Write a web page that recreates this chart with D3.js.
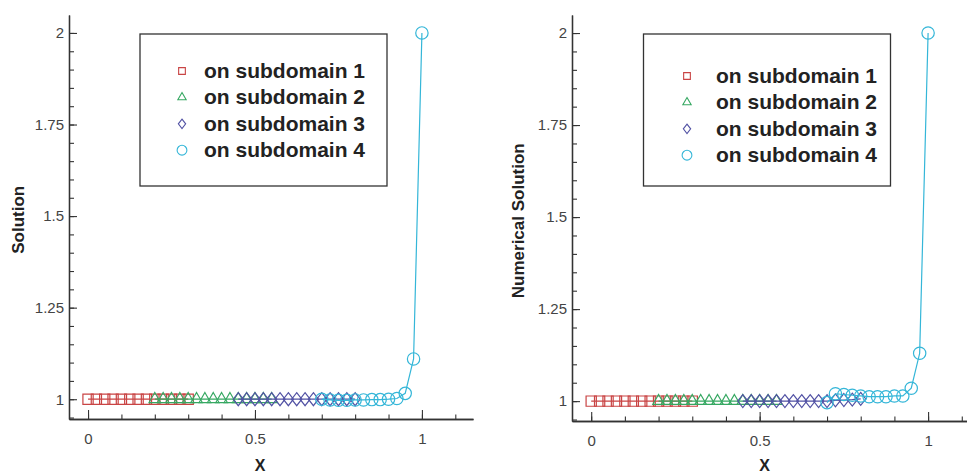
<!DOCTYPE html>
<html lang="en">
    <head>
        <meta charset="utf-8">
        <title>Solution on four subdomains</title>
        <script type="text/javascript" src="https://cdn.jsdelivr.net/npm/d3@7"></script>
        <style type="text/css">
            body { margin: 0; background: #fff; }
            svg { display: block; }
            text { font-family: "Liberation Sans", Arial, sans-serif; }
        </style>
    </head>

    <body>
        <script type="text/javascript">
            // Grid points of each subdomain
            var x1 = [0, 0.025, 0.05, 0.075, 0.1, 0.125, 0.15, 0.175, 0.2, 0.225, 0.25, 0.275, 0.3];
            var x2 = [0.2, 0.225, 0.25, 0.275, 0.3, 0.325, 0.35, 0.375, 0.4, 0.425, 0.45, 0.475, 0.5, 0.525, 0.55];
            var x3 = [0.45, 0.475, 0.5, 0.525, 0.55, 0.575, 0.6, 0.625, 0.65, 0.675, 0.7, 0.725, 0.75, 0.775, 0.8];
            var x4 = [0.7, 0.725, 0.75, 0.775, 0.8, 0.825, 0.85, 0.875, 0.9, 0.925, 0.95, 0.975, 1];

            // Left panel: solution
            var solY1 = [1, 1, 1, 1, 1, 1, 1, 1, 1, 1, 1, 1, 1];
            var solY2 = [1, 1, 1, 1, 1, 1, 1, 1, 1, 1, 1, 1, 1, 1, 1];
            var solY3 = [1, 1, 1, 1, 1, 1, 1, 1, 1, 1, 1, 1, 1, 1, 1];
            var solY4 = [1, 0.998, 0.997, 0.997, 0.998, 0.998, 0.999, 0.999, 1, 1.002, 1.016, 1.11, 2];

            // Right panel: numerical solution
            var numY1 = [1, 1, 1, 1, 1, 1, 1, 1, 1, 1, 1, 1, 1];
            var numY2 = [1, 1, 1, 1, 1, 1, 1, 1, 1, 1, 1, 1, 1, 1, 1];
            var numY3 = [1, 1, 1, 1, 1, 1, 1, 1, 1, 1, 1, 1.002, 1.003, 1.004, 1.006];
            var numY4 = [0.996, 1.02, 1.018, 1.016, 1.014, 1.012, 1.012, 1.012, 1.014, 1.014, 1.035, 1.13, 2];

            var legendLabels = ["on subdomain 1", "on subdomain 2", "on subdomain 3", "on subdomain 4"];
            var xTicks = [0, 0.5, 1];
            var yTicks = [1, 1.25, 1.5, 1.75, 2];

            // wider diamond than d3.symbolDiamond (size = half height squared)
            var wideDiamond = {
                draw: function(ctx, size) {
                    var hh = Math.sqrt(size), hw = hh * 0.78;
                    ctx.moveTo(0, -hh);
                    ctx.lineTo(hw, 0);
                    ctx.lineTo(0, hh);
                    ctx.lineTo(-hw, 0);
                    ctx.closePath();
                }
            };

            var colors = ["#c94444", "#36a862", "#5252a4", "#34b6d8"];
            var symbols = [d3.symbolSquare, d3.symbolTriangle, wideDiamond, d3.symbolCircle];
            var markSize = [105, 58, 42, 120];
            var legendSize = [45, 30, 22, 75];

            var w = 967;
            var h = 475;
            var svg = d3.select("body")
                    .append("svg")
                    .attr("width", w)
                    .attr("height", h);

            function drawPanel(p) {
                var xScale = d3.scaleLinear()
                                .domain([-0.057, 1.153])
                                .range([p.left, p.left + 404 * p.xStretch]);
                var yScale = d3.scaleLinear()
                                .domain([0.946, 2.049])
                                .range([p.bottom, 15]);

                var g = svg.append("g");

                // minor ticks
                var minorX = d3.range(-0.0, 1.15, 0.1);
                var minorY = d3.range(0.95, 2.04, 0.05);
                g.append("g")
                    .attr("transform", "translate(0," + p.bottom + ")")
                    .call(d3.axisBottom(xScale).tickValues(minorX).tickSize(-4.5).tickFormat("").tickSizeOuter(0));
                g.append("g")
                    .attr("transform", "translate(" + p.left + ",0)")
                    .call(d3.axisLeft(yScale).tickValues(minorY).tickSize(-5).tickFormat("").tickSizeOuter(0));

                // major ticks + labels
                var xAxis = d3.axisBottom(xScale)
                                .tickValues(xTicks)
                                .tickSize(-9)
                                .tickSizeOuter(0)
                                .tickPadding(14)
                                .tickFormat(d3.format(""));
                var yAxis = d3.axisLeft(yScale)
                                .tickValues(yTicks)
                                .tickSize(-8)
                                .tickSizeOuter(0)
                                .tickPadding(5)
                                .tickFormat(d3.format(""));
                g.append("g")
                    .attr("class", "axis")
                    .attr("transform", "translate(0," + p.bottom + ")")
                    .call(xAxis);
                g.append("g")
                    .attr("class", "axis")
                    .attr("transform", "translate(" + p.left + ",0)")
                    .call(yAxis);

                g.selectAll(".domain").attr("stroke", "#333").attr("stroke-width", 1.3);
                g.selectAll(".tick line").attr("stroke", "#333").attr("stroke-width", 1.1);
                g.selectAll(".tick text")
                    .attr("font-size", "15px")
                    .attr("font-family", "'Liberation Sans', Arial, sans-serif")
                    .attr("fill", "#444");

                // series
                var line = d3.line()
                            .x(function(d) { return xScale(d[0]); })
                            .y(function(d) { return yScale(d[1]); });
                p.series.forEach(function(s, i) {
                    var pts = s.x.map(function(v, k) { return [v, s.y[k]]; });
                    g.append("path")
                        .datum(pts)
                        .attr("d", line)
                        .attr("fill", "none")
                        .attr("stroke", colors[i])
                        .attr("stroke-width", 1.2);
                    g.selectAll(".m" + i)
                        .data(pts)
                        .enter()
                        .append("path")
                        .attr("class", "m" + i)
                        .attr("transform", function(d) {
                            return "translate(" + xScale(d[0]) + "," + yScale(d[1]) + ")";
                        })
                        .attr("d", d3.symbol().type(symbols[i]).size(markSize[i]))
                        .attr("fill", "none")
                        .attr("stroke", colors[i])
                        .attr("stroke-width", 1.2);
                });

                // axis titles
                g.append("text")
                    .attr("x", xScale(0.515))
                    .attr("y", 471)
                    .attr("text-anchor", "middle")
                    .attr("font-size", "16px")
                    .attr("font-weight", "bold")
                    .attr("fill", "#222")
                    .text("X");
                g.append("text")
                    .attr("transform", "translate(" + p.titleX + "," + yScale(1.49) + ") rotate(-90)")
                    .attr("text-anchor", "middle")
                    .attr("font-size", "17px")
                    .attr("font-weight", "bold")
                    .attr("fill", "#222")
                    .text(p.ylabel);

                // legend
                var lg = g.append("g");
                lg.append("rect")
                    .attr("x", p.legend.x)
                    .attr("y", 34)
                    .attr("width", 247)
                    .attr("height", 152)
                    .attr("fill", "#fff")
                    .attr("stroke", "#333")
                    .attr("stroke-width", 1.3);
                legendLabels.forEach(function(lab, i) {
                    var by = p.legend.base + i * 26.4;
                    lg.append("path")
                        .attr("transform", "translate(" + p.legend.mx + "," + (by - 7) + ")")
                        .attr("d", d3.symbol().type(symbols[i]).size(legendSize[i]))
                        .attr("fill", "none")
                        .attr("stroke", colors[i])
                        .attr("stroke-width", 1.1);
                    lg.append("text")
                        .attr("x", p.legend.tx)
                        .attr("y", by)
                        .attr("font-size", "21px")
                        .attr("font-weight", "bold")
                        .attr("fill", "#222")
                        .text(lab);
                });
            }

            drawPanel({
                left: 69, bottom: 419, xStretch: 1, titleX: 24, ylabel: "Solution",
                legend: { x: 140, mx: 182, tx: 204, base: 78 },
                series: [
                    { x: x1, y: solY1 }, { x: x2, y: solY2 },
                    { x: x3, y: solY3 }, { x: x4, y: solY4 }
                ]
            });
            drawPanel({
                left: 572, bottom: 421, xStretch: 1.009, titleX: 524, ylabel: "Numerical Solution",
                legend: { x: 643.5, mx: 687, tx: 716, base: 83 },
                series: [
                    { x: x1, y: numY1 }, { x: x2, y: numY2 },
                    { x: x3, y: numY3 }, { x: x4, y: numY4 }
                ]
            });
        </script>
    </body>
</html>
